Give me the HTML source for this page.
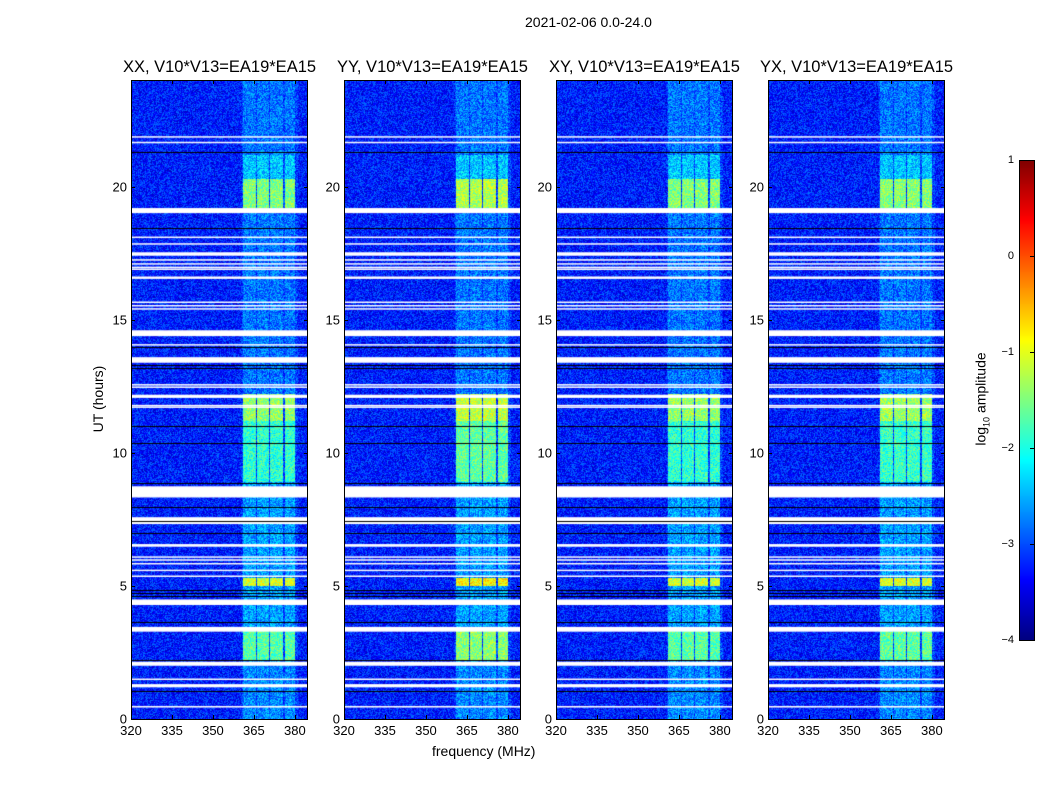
<!DOCTYPE html>
<html><head><meta charset="utf-8">
<style>
body{margin:0;background:#fff;font-family:"Liberation Sans",sans-serif;}
#fig{position:relative;width:1050px;height:800px;overflow:hidden;background:#fff;}
.t{position:absolute;white-space:nowrap;color:#000;}
canvas{position:absolute;}
.frame{position:absolute;border:1px solid #000;box-sizing:border-box;pointer-events:none;}
</style></head>
<body>
<div id="fig">
<div class="t" style="left:525px;top:14px;font-size:14px;">2021-02-06 0.0-24.0</div>
<div class="t" style="left:432px;top:743px;font-size:14px;">frequency (MHz)</div>
<div class="t" style="left:98px;top:399px;font-size:14px;transform:translate(-50%,-50%) rotate(-90deg);">UT (hours)</div>
<div class="t" style="left:982px;top:399px;font-size:14px;transform:translate(-50%,-50%) rotate(-90deg);">log<sub style="font-size:9px">10</sub> amplitude</div>
</div>
<script>
// ---- data ----
const panelTitles=["XX, V10*V13=EA19*EA15","YY, V10*V13=EA19*EA15","XY, V10*V13=EA19*EA15","YX, V10*V13=EA19*EA15"];
const panelGain=[0,0.25,0,0.05];
const xTicks=[320,335,350,365,380];
const yTicks=[0,5,10,15,20];
const cbTicks=[1,0,-1,-2,-3,-4];
// bright frequency channels [start MHz, end MHz]
const channels=[[361.1,365.7],[366.2,370.4],[371.0,375.5],[376.2,380.1]];
// time intervals [start h, end h, log amplitude of channels]
const brightTimes=[[0,2.2,-2.7],[2.2,3.3,-1.7],[3.3,5.0,-2.6],[5.0,5.3,-1.1],[5.3,8.9,-2.6],[8.9,11.2,-1.9],[11.2,12.2,-1.4],[12.2,19.2,-2.8],[19.2,20.3,-1.5],[20.3,21.2,-2.4],[21.2,24,-2.8]];
const background=-3.25;
// flagged (white) intervals [start h, end h]
const flagged=[[0.43,0.49],[1.19,1.31],[1.47,1.52],[2.0,2.15],[3.28,3.46],[4.28,4.49],[5.35,5.39],[5.57,5.61],[5.82,5.86],[5.96,6.0],[6.07,6.11],[6.47,6.57],[7.32,7.58],[8.32,8.74],[11.71,11.74],[11.77,11.8],[12.06,12.18],[12.45,12.49],[12.54,12.58],[13.38,13.59],[14.05,14.08],[14.38,14.6],[15.39,15.43],[15.51,15.55],[15.64,15.68],[16.53,16.62],[16.88,16.92],[16.95,16.99],[17.08,17.12],[17.23,17.27],[17.4,17.53],[17.83,17.87],[18.08,18.12],[19.0,19.19],[21.63,21.68],[21.84,21.89]];
// flagged (black) lines
const blackLines=[1.05,2.21,3.65,4.62,4.75,4.86,6.97,7.45,7.97,8.87,10.37,10.99,13.2,13.28,13.97,18.43,21.29];
// ---- layout ----
const fig=document.getElementById('fig');
const panelX=[131,344,556,768], pw=177, top0=80, ph=639;
const fMin=320,fMax=384.8,tMin=0,tMax=24;
function jet(v){const x=Math.max(0,Math.min(1,(v+4)/5));const c=a=>Math.round(255*Math.max(0,Math.min(1,a)));return [c(1.5-Math.abs(4*x-3)),c(1.5-Math.abs(4*x-2)),c(1.5-Math.abs(4*x-1))];}
function hash(a,b,c){let h=(a*374761393+b*668265263+c*2147483647)|0;h=(h^(h>>>13))*1274126177|0;h^=h>>>16;return ((h>>>0)%10000)/10000;}
panelX.forEach((px,p)=>{
  const xs=f=>(f-fMin)/(fMax-fMin)*pw, ys=t=>ph-(t-tMin)/(tMax-tMin)*ph;
  const cv=document.createElement('canvas');cv.width=pw;cv.height=ph;
  cv.style.left=px+'px';cv.style.top=top0+'px';
  
  
  fig.appendChild(cv);
  const ctx=cv.getContext('2d');const img=ctx.createImageData(pw,ph);
  for(let y=0;y<ph;y++){const t=tMax-(y+0.5)/ph*(tMax-tMin);
    let lvl=-2.8;for(const b of brightTimes){if(t>=b[0]&&t<b[1]){lvl=b[2];break;}}
    for(let x=0;x<pw;x++){const f=fMin+(x+0.5)/pw*(fMax-fMin);
      let v=background;
      for(const c of channels){if(f>=c[0]&&f<c[1]){v=lvl+(lvl>-2.1?panelGain[p]:0);break;}}
      if(f>=360.5&&f<381&&v===background)v=background+0.2;
      v+=(hash(x,y,p)-0.5)*0.9;
      const [r,g,b]=jet(v);const i=(y*pw+x)*4;img.data[i]=r;img.data[i+1]=g;img.data[i+2]=b;img.data[i+3]=255;}}
  ctx.putImageData(img,0,0);
  flagged.forEach(fl=>{ctx.fillStyle='#fff';const y1=ys(fl[1]),y2=ys(fl[0]);ctx.fillRect(0,y1,pw,Math.max(1.5,y2-y1));});
  blackLines.forEach(b=>{ctx.fillStyle='#000';ctx.fillRect(0,Math.round(ys(b)),pw,1);});
  const fr=document.createElement('div');fr.className='frame';
  fr.style.cssText=`left:${px}px;top:${top0}px;width:${pw}px;height:${ph+1}px`;
  
  
  fig.appendChild(fr);
  const ti=document.createElement('div');ti.className='t';ti.textContent=panelTitles[p];
  ti.style.cssText=`left:${px+pw/2}px;top:58px;font-size:16.5px;transform:translateX(-50%)`;
  
  
  fig.appendChild(ti);
  xTicks.forEach(v=>{const x=px+xs(v);
    const l=document.createElement('div');l.className='t';l.textContent=v;
    l.style.cssText=`left:${x}px;top:723px;font-size:13px;transform:translateX(-50%)`;
    
    
    fig.appendChild(l);
    ['top','bot'].forEach(s=>{const k=document.createElement('div');k.style.cssText=`position:absolute;left:${x}px;top:${s==='top'?top0:top0+ph-4}px;width:1px;height:4px;background:#000`;
      
      
      fig.appendChild(k);});});
  yTicks.forEach(v=>{const y=top0+ys(v);
    const l=document.createElement('div');l.className='t';l.textContent=v;
    l.style.cssText=`left:${px-4}px;top:${y}px;font-size:13px;transform:translate(-100%,-50%)`;
    
    
    fig.appendChild(l);
    [px,px+pw-4].forEach(xx=>{const k=document.createElement('div');k.style.cssText=`position:absolute;left:${xx}px;top:${y}px;width:4px;height:1px;background:#000`;
      
      
      fig.appendChild(k);});});
});
// colorbar
const cbx=1019,cby=160,cbw=15,cbh=480;
const cb=document.createElement('canvas');cb.width=cbw;cb.height=cbh;cb.style.left=cbx+'px';cb.style.top=cby+'px';


fig.appendChild(cb);
const cc=cb.getContext('2d');
for(let y=0;y<cbh;y++){const v=1-(y+0.5)/cbh*5;const [r,g,b]=jet(v);cc.fillStyle=`rgb(${r},${g},${b})`;cc.fillRect(0,y,cbw,1);}
const cbf=document.createElement('div');cbf.className='frame';cbf.style.cssText=`left:${cbx}px;top:${cby}px;width:${cbw+1}px;height:${cbh+1}px`;


fig.appendChild(cbf);
cbTicks.forEach(v=>{const y=cby+(1-v)/5*cbh;
  const l=document.createElement('div');l.className='t';l.textContent=v<0?'\u2212'+(-v):String(v);
  l.style.cssText=`left:${cbx-5}px;top:${y}px;font-size:11px;transform:translate(-100%,-50%)`;
  
  
  fig.appendChild(l);
  const k=document.createElement('div');k.style.cssText=`position:absolute;left:${cbx+cbw-4}px;top:${y}px;width:4px;height:1px;background:#000`;
  
  
  fig.appendChild(k);});
</script>
</body></html>
